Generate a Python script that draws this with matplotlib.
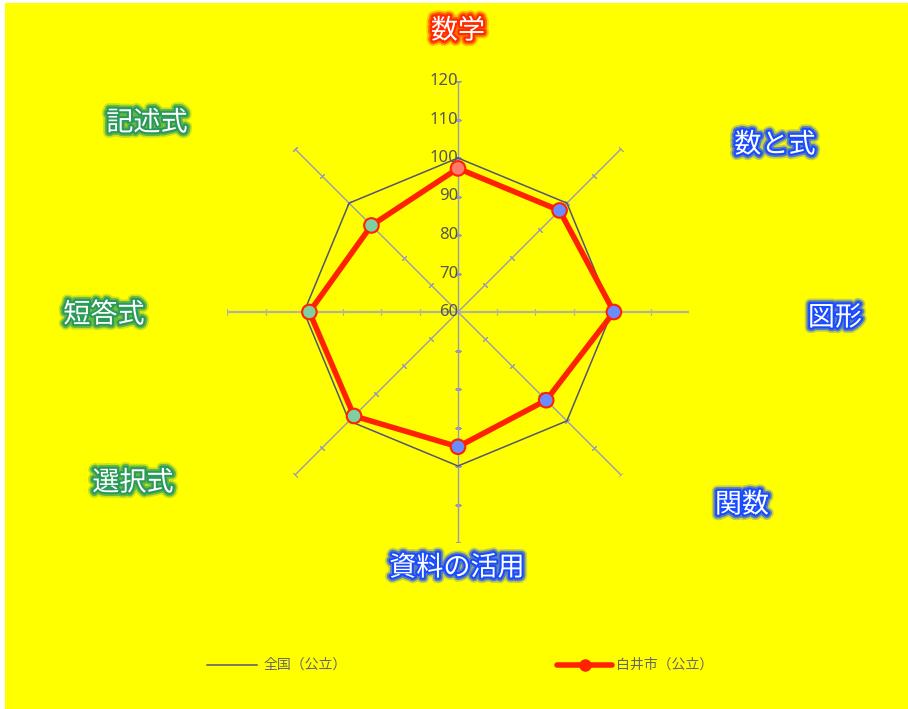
import numpy as np
import matplotlib
matplotlib.use("Agg")
import matplotlib.pyplot as plt
import matplotlib.patheffects as pe
from matplotlib.patches import Rectangle

plt.rcParams['font.family'] = ['Noto Sans CJK JP', 'DejaVu Sans']

# data
axes_labels = ['数学', '数と式', '図形', '関数', '資料の活用', '選択式', '短答式', '記述式']
national = [100, 100, 100, 100, 100, 100, 100, 100]
shirai = [97.3, 97.3, 100.5, 92.4, 95.0, 98.2, 98.6, 91.8]
r_ticks = [60, 70, 80, 90, 100, 110, 120]
series_names = ['全国（公立）', '白井市（公立）']

marker_colors = ['#ff7a6e', '#6b8cff', '#6b8cff', '#6b8cff', '#6b8cff', '#7fd0a0', '#7fd0a0', '#7fd0a0']
label_colors = ['#ff2a00', '#1a4cff', '#1a4cff', '#1a4cff', '#1a4cff', '#2a9a5a', '#2a9a5a', '#2a9a5a']
label_pos = [(458, 28), (775, 142), (835, 315), (742, 502), (457, 565),
             (133, 480), (104, 312), (147, 120)]

W, H = 908, 709
fig = plt.figure(figsize=(W / 100, H / 100), dpi=100, facecolor='white')
fig.patches.append(Rectangle((5 / W, 0), 1, 1 - 3 / H, transform=fig.transFigure,
                             facecolor='#ffff00', edgecolor='none', zorder=-10))

cx, cy, R = 458, 312, 231
ax = fig.add_axes([(cx - R) / W, (H - cy - R) / H, 2 * R / W, 2 * R / H], projection='polar')
ax.set_facecolor('none')
ax.set_theta_offset(np.pi / 2)
ax.set_theta_direction(-1)
ax.set_ylim(60, 120)
ax.spines['polar'].set_visible(False)
ax.grid(False)
ax.set_xticks([])
ax.set_yticks([])

n = len(axes_labels)
theta = np.arange(n) * 2 * np.pi / n

# spokes with small tick marks
for i, t in enumerate(theta):
    ang = 90 - np.degrees(t)
    horiz = (i % 4 == 2)
    col = '#b4b49a' if horiz else '#9a9ab4'
    lw = 1.6 if horiz else 1.0
    ax.plot([t, t], [60, 120], color=col, lw=lw, zorder=1, solid_capstyle='butt')
    ax.plot([t] * 6, r_ticks[1:], linestyle='none', marker=(2, 2, ang),
            ms=4.5, mew=0.8, color=col, zorder=1)

for v in r_ticks:
    ax.annotate(str(v), (0, v), xytext=(0, 0), textcoords='offset points',
                ha='right', va='center', fontsize=12, color='#555555',
                family=['Noto Sans', 'DejaVu Sans'], zorder=2)

tc = np.append(theta, theta[0])
ax.plot(tc, national + national[:1], color='#555570', lw=1.1, zorder=3)
ax.plot(tc, shirai + shirai[:1], color='#ff2200', lw=4, zorder=4)
ax.scatter(theta, shirai, s=110, c=marker_colors, edgecolors='#ff2200', linewidths=1.5, zorder=5)

for lab, (x, y), c in zip(axes_labels, label_pos, label_colors):
    fig.text(x / W, 1 - (y + 3) / H, lab, ha='center', va='center', fontsize=19.5, color='white',
             path_effects=[pe.Stroke(linewidth=8, foreground=c, alpha=0.25),
                           pe.Stroke(linewidth=5.5, foreground=c, alpha=0.6),
                           pe.Stroke(linewidth=3, foreground=c),
                           pe.Normal()])

# legend
leg_y = 1 - 665 / H
fig.add_artist(plt.Line2D([207 / W, 257 / W], [leg_y, leg_y], color='#555570', lw=1.1))
fig.text(264 / W, leg_y, series_names[0], ha='left', va='center', fontsize=10, color='#666666')
fig.add_artist(plt.Line2D([557 / W, 612 / W], [leg_y, leg_y], color='#ff2200', lw=4,
                          solid_capstyle='round'))
fig.add_artist(plt.Line2D([585 / W], [leg_y], color='#ff2200', marker='o', ms=8))
fig.text(616 / W, leg_y, series_names[1], ha='left', va='center', fontsize=10, color='#666666')

fig.savefig('out.png', dpi=100, facecolor=fig.get_facecolor())
